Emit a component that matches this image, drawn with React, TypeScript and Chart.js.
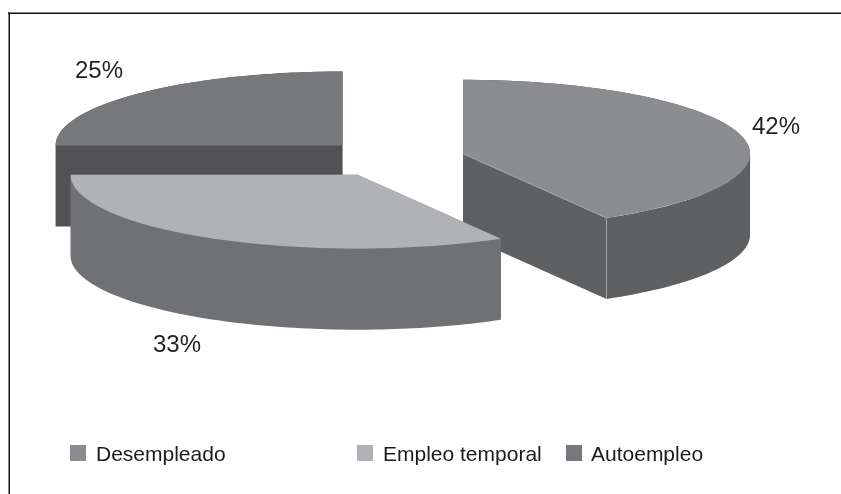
import React, { useEffect, useRef } from "react";
import { Chart, registerables } from "chart.js";

Chart.register(...registerables);

const categories = ["Desempleado", "Empleo temporal", "Autoempleo"];
const shares = [41.67, 33.33, 25];
const percentLabels = ["42%", "33%", "25%"];
const topColors = ["#8c8d90", "#b1b2b6", "#77787b"];
const wallColors = ["#5f6062", "#707174", "#525254"];
const legendColors = ["#8a8b8e", "#b0b1b5", "#77787b"];

const WIDTH = 841;
const HEIGHT = 494;
const TEXT = "#231f20";
const FONT = '"Liberation Sans", Arial, sans-serif';

const view = { cx: 393.5, cy: 158.6, rx: 287, ry: 74, depth: 81, explode: 72 };
const labelSpots = [
  { x: 752, y: 134 },
  { x: 153, y: 352 },
  { x: 75, y: 78 },
];
const legendSpots = [
  { box: 70, text: 96 },
  { box: 357, text: 383 },
  { box: 566, text: 591 },
];

function sliceCentre(el: any) {
  const mid = (el.startAngle + el.endAngle) / 2;
  return {
    x: view.cx + Math.cos(mid) * view.explode,
    y: view.cy + Math.sin(mid) * view.explode * (view.ry / view.rx),
  };
}

function outline(el: any) {
  const c = sliceCentre(el);
  const pts = [c];
  const n = 90;
  for (let i = 0; i <= n; i++) {
    const a = el.startAngle + ((el.endAngle - el.startAngle) * i) / n;
    pts.push({ x: c.x + Math.cos(a) * view.rx, y: c.y + Math.sin(a) * view.ry });
  }
  return pts;
}

function drawWall(ctx: CanvasRenderingContext2D, el: any, color: string) {
  const pts = outline(el);
  const d = view.depth;
  ctx.beginPath();
  pts.forEach((p, i) => {
    const q = pts[(i + 1) % pts.length];
    const forward = q.x >= p.x;
    const a = forward ? p : q;
    const b = forward ? q : p;
    ctx.moveTo(a.x, a.y);
    ctx.lineTo(b.x, b.y);
    ctx.lineTo(b.x, b.y + d);
    ctx.lineTo(a.x, a.y + d);
    ctx.closePath();
  });
  ctx.fillStyle = color;
  ctx.fill();
}

const pie3d = {
  id: "pie3d",
  beforeDatasetDraw(chart: any) {
    const ctx: CanvasRenderingContext2D = chart.ctx;
    const arcs = chart.getDatasetMeta(0).data;
    [2, 0, 1].forEach((i) => drawWall(ctx, arcs[i], wallColors[i]));

    arcs.forEach((el: any) => {
      const c = sliceCentre(el);
      ctx.save();
      ctx.translate(c.x, c.y);
      ctx.scale(view.rx / el.outerRadius, view.ry / el.outerRadius);
      ctx.translate(-el.x, -el.y);
      el.draw(ctx);
      ctx.restore();
    });

    // thin light seam on the front corner of the first slice
    const first = outline(arcs[0]);
    const corner = first[first.length - 1];
    ctx.save();
    ctx.strokeStyle = "#a4a5a8";
    ctx.lineWidth = 1;
    ctx.beginPath();
    ctx.moveTo(first[0].x, first[0].y);
    ctx.lineTo(corner.x, corner.y);
    ctx.lineTo(corner.x, corner.y + view.depth);
    ctx.stroke();
    ctx.restore();
    return false;
  },
  afterDatasetsDraw(chart: any) {
    const ctx: CanvasRenderingContext2D = chart.ctx;
    ctx.save();
    ctx.fillStyle = TEXT;
    ctx.textBaseline = "alphabetic";
    ctx.textAlign = "left";
    ctx.font = `24px ${FONT}`;
    percentLabels.forEach((t, i) => ctx.fillText(t, labelSpots[i].x, labelSpots[i].y));
    ctx.font = `21px ${FONT}`;
    categories.forEach((t, i) => {
      ctx.fillStyle = legendColors[i];
      ctx.fillRect(legendSpots[i].box, 445, 16, 16);
      ctx.fillStyle = "#1a1a1a";
      ctx.fillText(t, legendSpots[i].text, 461);
    });
    ctx.fillStyle = "#111111";
    ctx.fillRect(8, 12.5, WIDTH - 8, 1.5);
    ctx.fillRect(8.5, 12.5, 1.5, HEIGHT - 12.5);
    ctx.restore();
  },
};

export default function App() {
  const ref = useRef<HTMLCanvasElement | null>(null);
  useEffect(() => {
    const chart = new Chart(ref.current as HTMLCanvasElement, {
      type: "pie",
      data: {
        labels: categories,
        datasets: [
          {
            data: shares,
            backgroundColor: topColors,
            borderWidth: 0,
            clip: false,
          } as any,
        ],
      },
      options: {
        animation: false,
        responsive: false,
        events: [],
        layout: { padding: 0 },
        plugins: { legend: { display: false }, tooltip: { enabled: false } },
      },
      plugins: [pie3d],
    });
    return () => chart.destroy();
  }, []);
  return (
    <div style={{ position: "fixed", left: 0, top: 0, width: WIDTH, height: HEIGHT, background: "#fff" }}>
      <canvas ref={ref} width={WIDTH} height={HEIGHT} style={{ display: "block" }} />
    </div>
  );
}
